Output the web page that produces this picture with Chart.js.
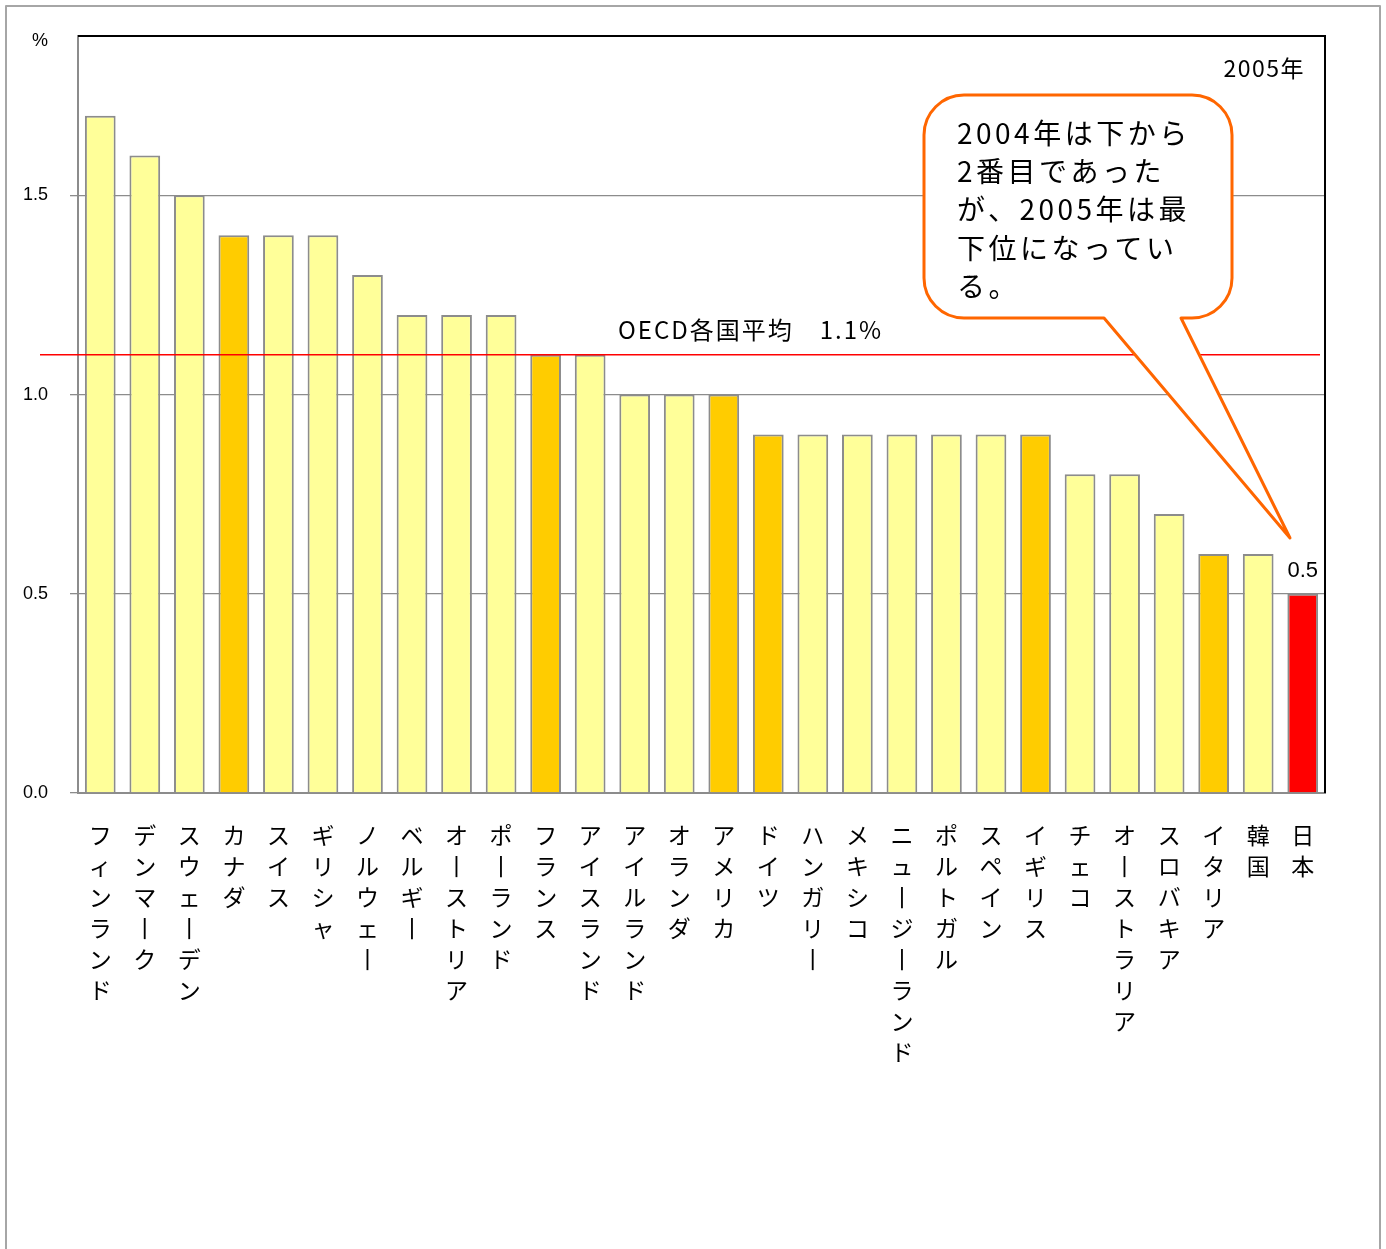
<!DOCTYPE html>
<html lang="ja">
<head>
<meta charset="utf-8">
<title>OECD各国比較 2005年</title>
<script src="https://cdn.jsdelivr.net/npm/chart.js@4.4.1/dist/chart.umd.min.js"></script>
<style>
  html, body { margin: 0; padding: 0; background: #fff; }
  #chart { display: block; }
</style>
</head>
<body>
<canvas id="chart" width="1386" height="1249"></canvas>
<script>
/* ---------------------------------------------------------------- *
 * Data (percent, 2005)
 * ---------------------------------------------------------------- */
const CATEGORIES = [
  "フィンランド", "デンマーク", "スウェーデン", "カナダ", "スイス", "ギリシャ",
  "ノルウェー", "ベルギー", "オーストリア", "ポーランド", "フランス", "アイスランド",
  "アイルランド", "オランダ", "アメリカ", "ドイツ", "ハンガリー", "メキシコ",
  "ニュージーランド", "ポルトガル", "スペイン", "イギリス", "チェコ", "オーストラリア",
  "スロバキア", "イタリア", "韓国", "日本",
];
const VALUES = [
  1.7, 1.6, 1.5, 1.4, 1.4, 1.4,
  1.3, 1.2, 1.2, 1.2, 1.1, 1.1,
  1.0, 1.0, 1.0, 0.9, 0.9, 0.9,
  0.9, 0.9, 0.9, 0.9, 0.8, 0.8,
  0.7, 0.6, 0.6, 0.5,
];
const G7 = ["カナダ", "フランス", "アメリカ", "ドイツ", "イギリス", "イタリア"];
const FOCUS = "日本";
const OECD_AVG = 1.1;
const Y_TICKS = [0, 0.5, 1.0, 1.5];
const Y_TICK_LABELS = ["0.0", "0.5", "1.0", "1.5"];
const CALLOUT_LINES = [
  "2004年は下から",
  "2番目であった",
  "が、2005年は最",
  "下位になってい",
  "る。",
];

const JP_FONT = '"Noto Sans CJK JP", "Noto Sans", sans-serif';
const NUM_FONT = '"Liberation Sans", Arial, sans-serif';

const COLOR_BASE = "#FFFF99";
const COLOR_G7 = "#FFCC00";
const COLOR_FOCUS = "#FF0000";
const GRID = "#8c8c8c";

// Vertical labels: one character per line, long vowel mark turned upright.
function verticalLabel(name) {
  return Array.from(name).map(ch => (ch === "ー" ? "丨" : ch));
}

function barColor(name) {
  if (name === FOCUS) return COLOR_FOCUS;
  if (G7.includes(name)) return COLOR_G7;
  return COLOR_BASE;
}

/* ---------------------------------------------------------------- *
 * Frame, average line and annotations
 * ---------------------------------------------------------------- */
const decorations = {
  id: "decorations",
  beforeDraw(chart) {
    const ctx = chart.ctx;
    ctx.save();
    ctx.fillStyle = "#fff";
    ctx.fillRect(0, 0, chart.width, chart.height);
    ctx.restore();
  },
  afterDatasetsDraw(chart) {
    const { ctx, chartArea: a, scales } = chart;
    const y = scales.y;
    ctx.save();

    // plot frame: top and right edges
    ctx.strokeStyle = "#000";
    ctx.lineWidth = 2;
    ctx.beginPath();
    ctx.moveTo(a.left, a.top);
    ctx.lineTo(a.right, a.top);
    ctx.lineTo(a.right, a.bottom);
    ctx.stroke();

    // OECD average
    const yAvg = y.getPixelForValue(OECD_AVG);
    ctx.strokeStyle = "#FF0000";
    ctx.lineWidth = 1.5;
    ctx.beginPath();
    ctx.moveTo(40, yAvg);
    ctx.lineTo(1320, yAvg);
    ctx.stroke();

    ctx.fillStyle = "#000";
    ctx.font = `24px ${JP_FONT}`;
    ctx.letterSpacing = "2px";
    ctx.textBaseline = "alphabetic";
    ctx.textAlign = "left";
    ctx.fillText(`OECD各国平均　${OECD_AVG.toFixed(1)}%`, 618, yAvg - 16);

    // unit and year
    ctx.letterSpacing = "0px";
    ctx.font = `18px ${NUM_FONT}`;
    ctx.textAlign = "right";
    ctx.textBaseline = "middle";
    ctx.fillText("%", 48, 41);

    ctx.font = `23px ${JP_FONT}`;
    ctx.letterSpacing = "1.5px";
    ctx.fillText("2005年", 1305, 68);
    ctx.letterSpacing = "0px";

    // value label over the focus bar
    const idx = CATEGORIES.indexOf(FOCUS);
    const bar = chart.getDatasetMeta(0).data[idx];
    ctx.font = `22px ${NUM_FONT}`;
    ctx.textAlign = "center";
    ctx.textBaseline = "alphabetic";
    ctx.fillText(VALUES[idx].toFixed(1), bar.x, bar.y - 17);

    // speech bubble
    const bx = 924, by = 95, bw = 308, bh = 223, r = 40;
    const tipX = 1290, tipY = 538;
    ctx.beginPath();
    ctx.moveTo(bx + r, by);
    ctx.lineTo(bx + bw - r, by);
    ctx.arcTo(bx + bw, by, bx + bw, by + r, r);
    ctx.lineTo(bx + bw, by + bh - r);
    ctx.arcTo(bx + bw, by + bh, bx + bw - r, by + bh, r);
    ctx.lineTo(1181, by + bh);
    ctx.lineTo(tipX, tipY);
    ctx.lineTo(1104, by + bh);
    ctx.lineTo(bx + r, by + bh);
    ctx.arcTo(bx, by + bh, bx, by + bh - r, r);
    ctx.lineTo(bx, by + r);
    ctx.arcTo(bx, by, bx + r, by, r);
    ctx.closePath();
    ctx.fillStyle = "#fff";
    ctx.fill();
    ctx.strokeStyle = "#FF6600";
    ctx.lineWidth = 3;
    ctx.lineJoin = "round";
    ctx.stroke();

    ctx.fillStyle = "#000";
    ctx.font = `28px ${JP_FONT}`;
    ctx.letterSpacing = "3.5px";
    ctx.textAlign = "left";
    ctx.textBaseline = "middle";
    CALLOUT_LINES.forEach((line, i) => ctx.fillText(line, 957, 133 + i * 38.3));
    ctx.letterSpacing = "0px";

    // outer border
    ctx.strokeStyle = "#a6a6a6";
    ctx.lineWidth = 2;
    ctx.strokeRect(6, 6, 1374, 1300);
    ctx.restore();
  },
};

new Chart(document.getElementById("chart"), {
  type: "bar",
  data: {
    labels: CATEGORIES.map(verticalLabel),
    datasets: [{
      data: VALUES,
      backgroundColor: CATEGORIES.map(barColor),
      borderColor: GRID,
      borderWidth: 2,
      barPercentage: 0.69,
      categoryPercentage: 1,
    }],
  },
  options: {
    responsive: false,
    animation: false,
    devicePixelRatio: 1,
    layout: { padding: { top: 36, right: 61, bottom: 0, left: 0 } },
    plugins: { legend: { display: false }, tooltip: { enabled: false } },
    scales: {
      x: {
        grid: { display: false, drawTicks: false },
        border: { display: true, color: GRID, width: 2 },
        ticks: {
          autoSkip: false, maxRotation: 0, minRotation: 0, padding: 27,
          color: "#000",
          font: { family: JP_FONT, size: 23, lineHeight: "31px" },
        },
        afterFit(scale) { scale.height = 456; },
      },
      y: {
        min: 0,
        max: 1.9,
        afterBuildTicks(scale) { scale.ticks = Y_TICKS.map(v => ({ value: v })); },
        grid: { color: GRID, lineWidth: 1.3, tickLength: 8, drawTicks: true },
        border: { display: true, color: GRID, width: 2 },
        ticks: {
          padding: 22,
          color: "#000",
          font: { family: NUM_FONT, size: 18 },
          callback: (v) => Y_TICK_LABELS[Y_TICKS.indexOf(v)] ?? "",
        },
        afterFit(scale) { scale.width = 78; },
      },
    },
  },
  plugins: [decorations],
});
</script>
</body>
</html>
